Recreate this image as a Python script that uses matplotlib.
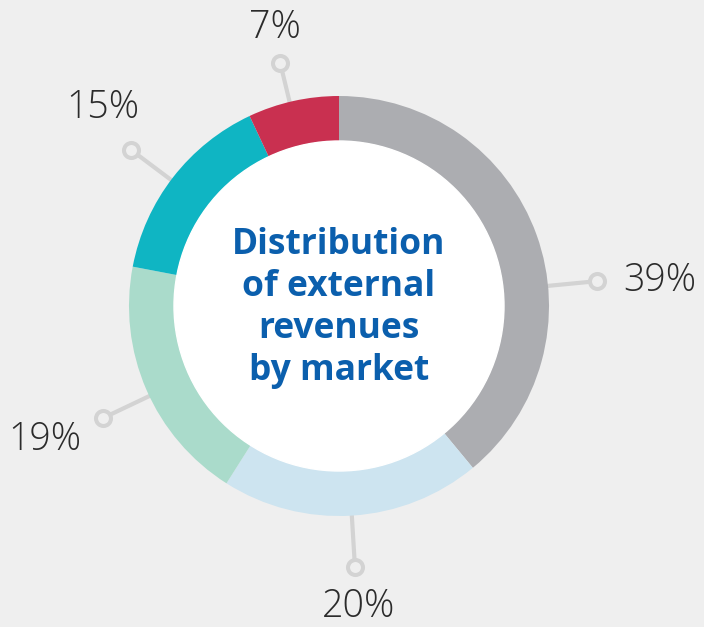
import numpy as np
import matplotlib.pyplot as plt

# parts of external revenues, clockwise from 12 o'clock
shares = [39, 20, 19, 15, 7]
labels = ['39%', '20%', '19%', '15%', '7%']
colors = ['#acadb1', '#cde4f0', '#aadbcb', '#0fb5c3', '#c93050']
title = 'Distribution\nof external\nrevenues\nby market'

# leader lines: angle (deg) and length to the small circle, label anchor
lead_angle = [5.5, -86.5, 205.4, 143.1, 103.6]
lead_dist = [259, 261, 261, 260, 250]
label_xy = [(660, 281), (359, 607), (45, 440), (103, 108), (275, 28)]

bg = '#efefef'
line_col = '#d3d3d3'
W, H = 704, 627
cx, cy = 339, H - 306
r_out, r_in = 210, 165

fig = plt.figure(figsize=(W / 100, H / 100), dpi=100, facecolor=bg)
ax = fig.add_axes([0, 0, 1, 1])

# leader lines under the ring
for a, d in zip(lead_angle, lead_dist):
    t = np.deg2rad(a)
    x0, y0 = cx + (r_out - 5) * np.cos(t), cy + (r_out - 5) * np.sin(t)
    x1, y1 = cx + d * np.cos(t), cy + d * np.sin(t)
    ax.plot([x0, x1], [y0, y1], color=line_col, lw=3, zorder=1,
            solid_capstyle='butt')
    ax.plot(x1, y1, 'o', ms=10.8, mfc=bg, mec=line_col, mew=2.9, zorder=2)

ax.pie(shares, colors=colors, startangle=90, counterclock=False,
       center=(cx, cy), radius=r_out, frame=True,
       wedgeprops=dict(width=r_out - r_in, linewidth=0, zorder=3))
ax.set_xlim(0, W)
ax.set_ylim(0, H)
ax.set_aspect('equal')
ax.axis('off')
ax.add_patch(plt.Circle((cx, cy), r_in, color='white', zorder=4))

ax.text(cx, cy - 2, title, ha='center', va='center', color='#0b5fad',
        fontsize=25.5, fontweight='bold', family='Open Sans',
        linespacing=1.22, zorder=5)

for lab, (x, y) in zip(labels, label_xy):
    ax.text(x, H - y, lab, ha='center', va='center', color='#2b2b2b',
            fontsize=27, fontweight='light', family='Open Sans', zorder=5)

fig.savefig('out.png', dpi=100, facecolor=bg)
